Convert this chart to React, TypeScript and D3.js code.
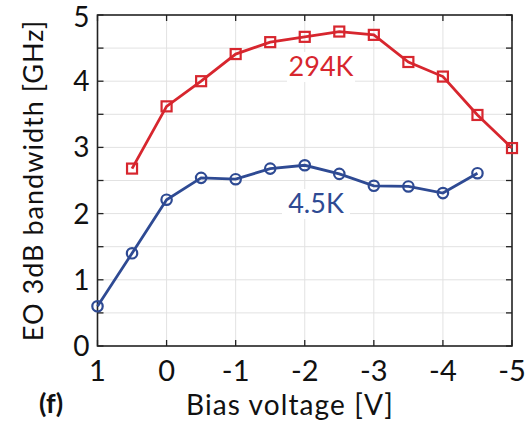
import { useEffect, useRef } from "react";
import * as d3 from "d3";

// Bias voltage [V] and EO 3dB bandwidth [GHz]
const hotVolts = [0.5, 0, -0.5, -1, -1.5, -2, -2.5, -3, -3.5, -4, -4.5, -5];
const hotBw = [2.68, 3.62, 4.0, 4.41, 4.59, 4.67, 4.75, 4.7, 4.29, 4.07, 3.49, 2.99];
const coldVolts = [1, 0.5, 0, -0.5, -1, -1.5, -2, -2.5, -3, -3.5, -4, -4.5];
const coldBw = [0.6, 1.4, 2.21, 2.54, 2.52, 2.68, 2.73, 2.6, 2.42, 2.41, 2.31, 2.61];
const xTicks = [1, 0, -1, -2, -3, -4, -5];
const yTicks = [0, 1, 2, 3, 4, 5];
const yMinor = [0, 0.5, 1, 1.5, 2, 2.5, 3, 3.5, 4, 4.5, 5];

const RED = "#d7262e";
const BLUE = "#2e4a93";
const FONT = "Lato, 'Noto Sans', sans-serif";

function App() {
    const svgRef = useRef<SVGSVGElement>(null);
    const width = 526;
    const height = 426;
    const margin = { top: 15, right: 14, bottom: 80, left: 97.5 };

    useEffect(() => {
        const svg = d3.select(svgRef.current);
        svg.selectAll("*").remove();

        const x = d3.scaleLinear().domain([1, -5]).range([margin.left, width - margin.right]);
        const y = d3.scaleLinear().domain([0, 5]).range([height - margin.bottom, margin.top]);
        const [x0, x1] = x.range();
        const [y0, y1] = y.range();

        // grid
        const grid = svg.append("g").attr("stroke", "#e2e2e2").attr("stroke-width", 1);
        grid.selectAll(".gx").data(xTicks.slice(1, -1)).enter().append("line")
            .attr("x1", (d) => x(d)).attr("x2", (d) => x(d)).attr("y1", y1).attr("y2", y0);
        grid.selectAll(".gy").data(yMinor.slice(1, -1)).enter().append("line")
            .attr("y1", (d) => y(d)).attr("y2", (d) => y(d)).attr("x1", x0).attr("x2", x1);

        // ticks, pointing inward on all four sides
        const ticks = svg.append("g").attr("stroke", "#222").attr("stroke-width", 1.3);
        const tl = 6;
        xTicks.forEach((d) => {
            ticks.append("line").attr("x1", x(d)).attr("x2", x(d)).attr("y1", y0).attr("y2", y0 - tl);
            ticks.append("line").attr("x1", x(d)).attr("x2", x(d)).attr("y1", y1).attr("y2", y1 + tl);
        });
        yMinor.forEach((d) => {
            ticks.append("line").attr("y1", y(d)).attr("y2", y(d)).attr("x1", x0).attr("x2", x0 + tl);
            ticks.append("line").attr("y1", y(d)).attr("y2", y(d)).attr("x1", x1).attr("x2", x1 - tl);
        });

        // frame
        svg.append("rect")
            .attr("x", x0).attr("y", y1).attr("width", x1 - x0).attr("height", y0 - y1)
            .attr("fill", "none").attr("stroke", "#222").attr("stroke-width", 1.6);

        // tick labels
        svg.append("g").selectAll("text").data(xTicks).enter().append("text")
            .attr("x", (d) => x(d)).attr("y", y0 + 35)
            .attr("text-anchor", "middle").attr("font-family", FONT).attr("font-size", 29)
            .attr("fill", "#111")
            .text((d) => (d < 0 ? "-" + Math.abs(d) : String(d)));
        svg.append("g").selectAll("text").data(yTicks).enter().append("text")
            .attr("x", x0 - 8).attr("y", (d) => Math.max(y(d) + 10, 27))
            .attr("text-anchor", "end").attr("font-family", FONT).attr("font-size", 28)
            .attr("fill", "#111")
            .text((d) => String(d));

        // axis labels
        svg.append("text")
            .attr("x", 290).attr("y", 415)
            .attr("text-anchor", "middle").attr("font-family", FONT).attr("font-size", 28)
            .attr("letter-spacing", 1.1)
            .attr("fill", "#111")
            .text("Bias voltage [V]");
        svg.append("text")
            .attr("transform", `translate(43, ${(y0 + y1) / 2}) rotate(-90)`)
            .attr("text-anchor", "middle").attr("font-family", FONT).attr("font-size", 27)
            .attr("letter-spacing", 1)
            .attr("fill", "#111")
            .text("EO 3dB bandwidth [GHz]");
        svg.append("text")
            .attr("x", 39).attr("y", 413)
            .attr("font-family", FONT).attr("font-size", 27).attr("font-weight", "bold")
            .attr("fill", "#111")
            .text("(f)");

        const line = d3.line<[number, number]>()
            .x((d) => x(d[0]))
            .y((d) => y(d[1]));

        const hot: [number, number][] = hotVolts.map((v, i) => [v, hotBw[i]]);
        const cold: [number, number][] = coldVolts.map((v, i) => [v, coldBw[i]]);

        // series labels with white backing
        const label = (text: string, cx: number, cy: number, color: string) => {
            svg.append("rect")
                .attr("x", cx - 34).attr("y", cy - 24).attr("width", 68).attr("height", 30)
                .attr("fill", "white");
            svg.append("text")
                .attr("x", cx).attr("y", cy)
                .attr("text-anchor", "middle").attr("font-family", FONT).attr("font-size", 27)
                .attr("fill", color)
                .text(text);
        };
        label("294K", 321, 76, RED);
        label("4.5K", 316, 213, BLUE);

        // red series
        svg.append("path").datum(hot)
            .attr("fill", "none").attr("stroke", RED).attr("stroke-width", 2.8)
            .attr("d", line);
        svg.append("g").selectAll("rect").data(hot).enter().append("rect")
            .attr("x", (d) => x(d[0]) - 5).attr("y", (d) => y(d[1]) - 5)
            .attr("width", 10).attr("height", 10)
            .attr("fill", "none").attr("stroke", RED).attr("stroke-width", 2.2);

        // blue series
        svg.append("path").datum(cold)
            .attr("fill", "none").attr("stroke", BLUE).attr("stroke-width", 2.8)
            .attr("d", line);
        svg.append("g").selectAll("circle").data(cold).enter().append("circle")
            .attr("cx", (d) => x(d[0])).attr("cy", (d) => y(d[1])).attr("r", 5.2)
            .attr("fill", "none").attr("stroke", BLUE).attr("stroke-width", 2.2);
    }, []);

    return (
        <div style={{ position: "absolute", left: 0, top: 0 }}>
            <svg ref={svgRef} width={width} height={height} style={{ display: "block", background: "white" }}></svg>
        </div>
    );
}

export default App;
